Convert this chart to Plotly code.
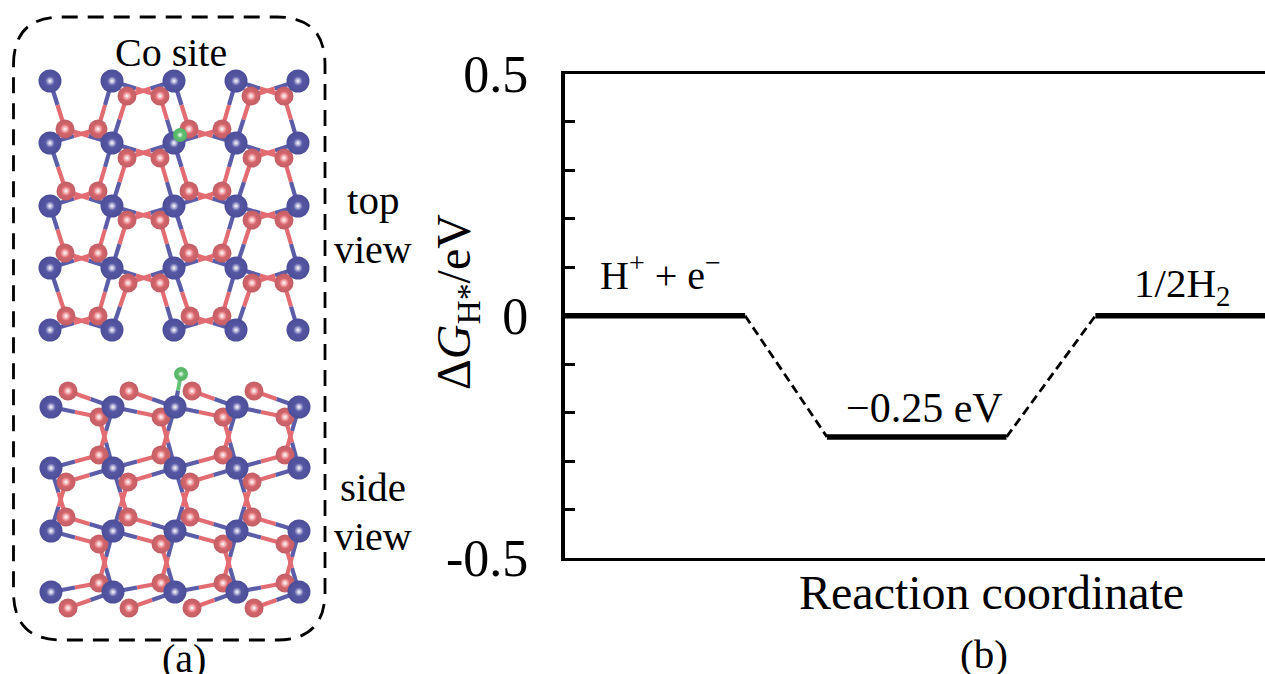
import plotly.graph_objects as go

SERIF = "Liberation Serif"
# ---- energy diagram data ----
level_start = [0.0, 2.63, 5.32]
level_end = [1.81, 4.43, 7.02]
level_energy = [0.0, -0.25, 0.0]
y_major = [-0.5, 0.0, 0.5]
y_major_text = ["-0.5", "0", "0.5"]
y_minor = [-0.4, -0.3, -0.2, -0.1, 0.1, 0.2, 0.3, 0.4]

# ---- atoms of the two views ----
top_co_x = [50, 112, 174, 236, 298]
top_co_y = [81, 143, 206, 268, 330]
top_o_rows = [
    (96, [127, 160, 251, 284]),
    (129, [65, 98, 189, 222]),
    (158, [127, 160, 252, 284]),
    (191, [66, 98, 189, 222]),
    (220, [127, 160, 252, 284]),
    (253, [65, 98, 189, 222]),
    (283, [128, 160, 252, 284]),
    (316, [66, 98, 190, 222]),
]
side_co_x = [51, 113, 175, 237, 299]
side_co_y = [407, 468, 531, 592]
side_o_rows = [
    (391, [68, 129, 192, 254]),
    (417, [99, 161, 223, 285]),
    (455, [99, 161, 223, 285]),
    (482, [66, 128, 190, 252]),
    (517, [66, 128, 190, 252]),
    (544, [99, 161, 223, 285]),
    (583, [99, 161, 223, 285]),
    (608, [68, 129, 192, 254]),
]
h_x = [180, 181]
h_y = [135, 374]
h_bond_co = (175, 407)
box_left, box_right, box_top, box_bottom, box_r = 13.5, 325, 17, 640, 48

BLUE, RED, GREEN = "#5B5DA9", "#E26C72", "#66C277"

co = [(x, y) for y in top_co_y for x in top_co_x] + [(x, y) for y in side_co_y for x in side_co_x]
ox = [(x, y) for y, xs in top_o_rows for x in xs] + [(x, y) for y, xs in side_o_rows for x in xs]

bx_b, by_b, bx_r, by_r = [], [], [], []
for cx, cy in co:
    for ox_, oy in ox:
        d = ((cx - ox_) ** 2 + (cy - oy) ** 2) ** 0.5
        if 43 < d < 57:
            mx, my = (cx + ox_) / 2, (cy + oy) / 2
            bx_b += [cx, mx, None]
            by_b += [cy, my, None]
            bx_r += [mx, ox_, None]
            by_r += [my, oy, None]

hm = ((h_x[1] + h_bond_co[0]) / 2, (h_y[1] + h_bond_co[1]) / 2)
bx_b += [h_bond_co[0], hm[0], None]
by_b += [h_bond_co[1], hm[1], None]

fig = go.Figure()
ax2 = dict(xaxis="x2", yaxis="y2")

fig.add_trace(go.Scatter(x=bx_b, y=by_b, mode="lines", line=dict(color=BLUE, width=4.2), hoverinfo="skip", **ax2))
fig.add_trace(go.Scatter(x=bx_r, y=by_r, mode="lines", line=dict(color=RED, width=4.2), hoverinfo="skip", **ax2))
fig.add_trace(go.Scatter(x=[h_x[1], hm[0]], y=[h_y[1], hm[1]], mode="lines",
                         line=dict(color=GREEN, width=4), hoverinfo="skip", **ax2))


def atoms(pts, color, edge, size, hl):
    xs = [p[0] for p in pts]
    ys = [p[1] for p in pts]
    fig.add_trace(go.Scatter(x=xs, y=ys, mode="markers", hoverinfo="skip",
                             marker=dict(size=size, color=edge, gradient=dict(type="radial", color=color),
                                         line=dict(width=0)), **ax2))
    fig.add_trace(go.Scatter(x=xs, y=ys, mode="markers", hoverinfo="skip",
                             marker=dict(size=hl, color=color, gradient=dict(type="radial", color="#FFFFFF"),
                                         line=dict(width=0)), **ax2))


atoms(ox, RED, "#C25E66", 19, 9)
atoms(co, BLUE, "#4C4E9A", 23, 9)
atoms(list(zip(h_x, h_y)), GREEN, "#55B566", 14, 6)

# energy diagram
for s, e, g in zip(level_start, level_end, level_energy):
    fig.add_trace(go.Scatter(x=[s, e], y=[g, g], mode="lines", line=dict(color="black", width=5.5),
                             cliponaxis=False, hoverinfo="skip"))
for i in range(len(level_start) - 1):
    fig.add_trace(go.Scatter(x=[level_end[i], level_start[i + 1]], y=[level_energy[i], level_energy[i + 1]],
                             mode="lines", line=dict(color="black", width=2.8, dash="9px,5px"), hoverinfo="skip"))

box_path = (
    f"M {box_left} {box_top + box_r} Q {box_left} {box_top} {box_left + box_r} {box_top} "
    f"L {box_right - box_r} {box_top} Q {box_right} {box_top} {box_right} {box_top + box_r} "
    f"L {box_right} {box_bottom - box_r} Q {box_right} {box_bottom} {box_right - box_r} {box_bottom} "
    f"L {box_left + box_r} {box_bottom} Q {box_left} {box_bottom} {box_left} {box_bottom - box_r} Z"
)


def note(x, y, text, size):
    fig.add_annotation(x=x, y=y, text=text, xref="x2", yref="y2", showarrow=False,
                       font=dict(family=SERIF, size=size, color="black"))


note(171, 52, "Co site", 40)
note(373, 200, "top", 41)
note(373, 249, "view", 40)
note(373, 487, "side", 41)
note(373, 536, "view", 40)
note(184, 658, "(a)", 40)

for x, y, text, size in [(0.96, 0.09, "H<sup>+</sup> + e<sup>\u2212</sup>", 40),
                         (3.61, -0.19, "\u22120.25 eV", 42),
                         (6.19, 0.062, "1/2H<sub>2</sub>", 41)]:
    fig.add_annotation(x=x, y=y, text=text, xref="x", yref="y", showarrow=False,
                       font=dict(family=SERIF, size=size, color="black"))

for x, y, text, size, angle in [(991, 592, "Reaction coordinate", 48, 0),
                                (984, 654, "(b)", 41, 0),
                                (457, 302, "\u0394<i>G</i><sub>H*</sub>/eV", 48, -90)]:
    fig.add_annotation(x=x / 1265, y=1 - y / 674, text=text, xref="paper", yref="paper", showarrow=False,
                       xanchor="center", yanchor="middle",
                       textangle=angle, font=dict(family=SERIF, size=size, color="black"))

fig.update_layout(
    width=1265, height=674, margin=dict(l=0, r=0, t=0, b=0), autosize=False,
    paper_bgcolor="white", plot_bgcolor="rgba(0,0,0,0)", showlegend=False,
    shapes=[dict(type="path", path=box_path, xref="x2", yref="y2",
                 line=dict(color="black", width=2.8, dash="16px,10px"))],
    xaxis=dict(domain=[564.5 / 1265, 1], range=[0, 7.02], showgrid=False, zeroline=False, showticklabels=False,
               ticks="", showline=True, linecolor="black", linewidth=3, mirror=True, automargin=False),
    yaxis=dict(domain=[(674 - 558) / 674, (674 - 73.5) / 674], range=[-0.5, 0.5], showgrid=False, zeroline=False,
               tickmode="array", tickvals=y_major, ticktext=y_major_text, ticks="",
               minor=dict(tickmode="array", tickvals=y_minor, ticks="inside", ticklen=11, tickwidth=2.5, tickcolor="black"),
               showline=True, linecolor="black", linewidth=3.5, automargin=False,
               ticklabelstandoff=22, tickfont=dict(family=SERIF, size=52, color="black")),
    xaxis2=dict(domain=[0, 442 / 1265], range=[0, 442], visible=False, fixedrange=True, anchor="y2", automargin=False),
    yaxis2=dict(domain=[0, 1], range=[674, 0], visible=False, fixedrange=True, anchor="x2", automargin=False),
)
fig.write_html("out.html", config=dict(displayModeBar=False),
               post_script="document.body.style.margin='0';document.body.style.overflow='hidden';")
